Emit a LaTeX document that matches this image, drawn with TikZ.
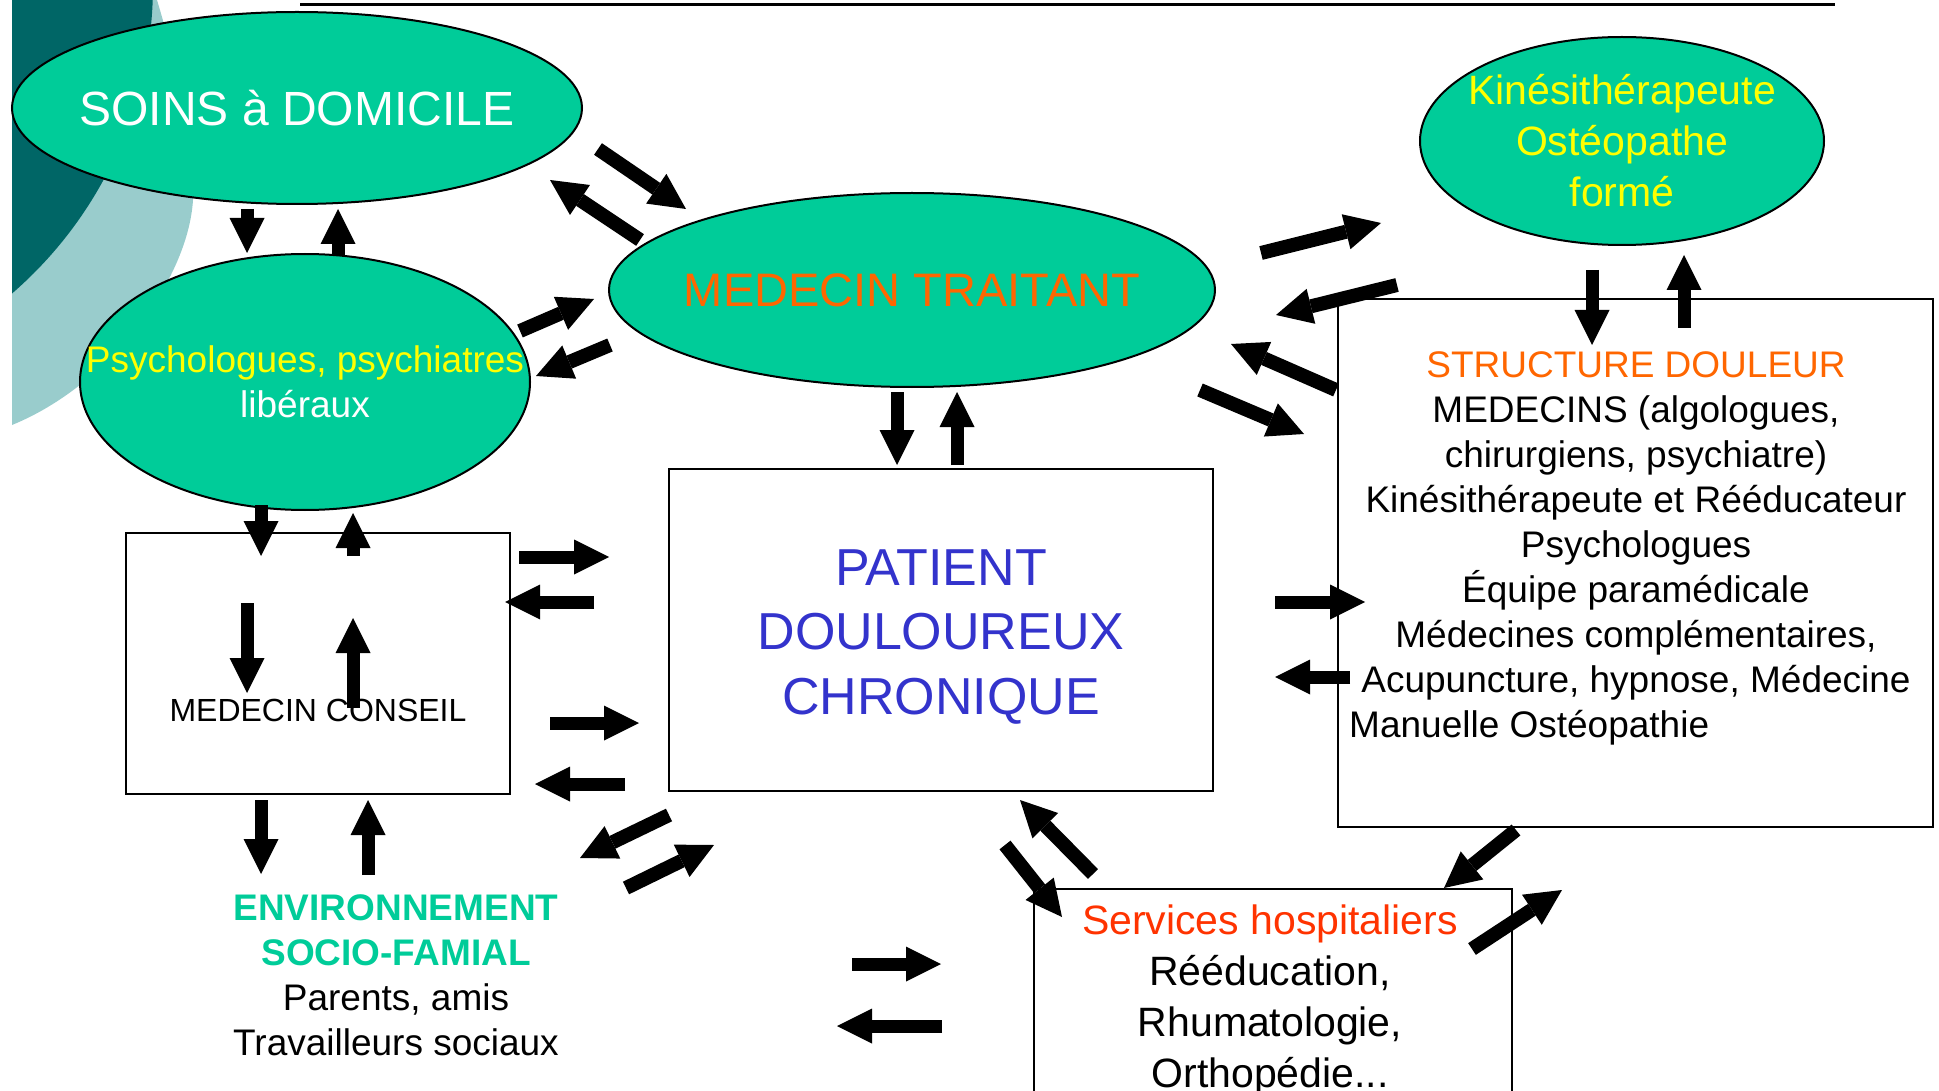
\documentclass[tikz,border=0pt]{standalone}
\usepackage{fontspec}
\setmainfont{Liberation Sans}
\usetikzlibrary{arrows.meta,shapes.geometric}
\definecolor{ellfill}{HTML}{00CC99}
\definecolor{darkteal}{HTML}{006666}
\definecolor{lightteal}{HTML}{99CCCC}
\definecolor{orangetxt}{HTML}{FF6600}
\definecolor{yellowtxt}{HTML}{FFFF00}
\definecolor{bluetxt}{HTML}{3333CC}
\definecolor{redtxt}{HTML}{FF3300}
\definecolor{greentxt}{HTML}{00CC99}
\newcommand\fsz[2]{\fontsize{#1pt}{#2pt}\selectfont}
\newcommand\flow[4][barrow]{\coordinate (#2a) at (#3); \coordinate (#2b) at (#4); \draw[#1] (#2a) -- (#2b);}
\begin{document}
\begin{tikzpicture}[x=1pt,y=-1pt,
  ell/.style={ellipse,draw=black,line width=2pt,fill=ellfill,inner sep=0pt},
  boxn/.style={rectangle,draw=black,line width=2.2pt,inner sep=0pt},
  txt/.style={inner sep=0pt,align=center},
  barrow/.style={line width=13pt,-{Triangle[width=35pt,length=35pt,line width=0pt]}},
  darrow/.style={line width=14pt,-{Triangle[width=36pt,length=36pt,line width=0pt]}},
]
\useasboundingbox (0,0) rectangle (1939,1091);
% background decoration
\fill[lightteal] (12,0) -- (157,0) .. controls (175,60) and (195,140) .. (193,200)
   .. controls (188,280) and (110,385) .. (12,425) -- cycle;
\begin{scope}
  \clip (12,0) rectangle (400,450);
  \fill[darkteal] (-255,-15) circle[radius=408pt];
\end{scope}
% top line
\coordinate (tlA) at (300,5);
\coordinate (tlB) at (1835,5);
\draw[line width=3pt] (tlA) -- (tlB);

% ellipses
\node[ell,minimum width=570pt,minimum height=192pt] (soins) at (297,108) {};
\node[ell,minimum width=450pt,minimum height=256pt] (psy) at (305,382) {};
\node[ell,minimum width=404pt,minimum height=208pt] (kine) at (1622,141) {};
\node[ell,minimum width=606pt,minimum height=194pt] (med) at (912,290) {};

% boxes
\node[boxn,minimum width=544pt,minimum height=322pt] (pat) at (941,630) {};
\node[boxn,minimum width=384pt,minimum height=261pt] (cons) at (318,663.5) {};
\node[boxn,minimum width=595pt,minimum height=528pt] (sd) at (1635.5,563) {};
\node[boxn,minimum width=478pt,minimum height=211pt] (sv) at (1273,994.5) {};

% texts
\node[txt,text=white,font=\fsz{48}{58}] (soinsT) at (soins.center) {SOINS à DOMICILE};
\node[txt,font=\fsz{37}{45}] (psyT) at (psy.center) {\textcolor{yellowtxt}{Psychologues, psychiatres}\\\textcolor{white}{libéraux}};
\node[txt,text=yellowtxt,font=\fsz{41}{51}] (kineT) at (kine.center) {Kinésithérapeute\\Ostéopathe\\formé};
\node[txt,text=orangetxt,font=\fsz{47}{56}] (medT) at (med.center) {MEDECIN TRAITANT};
\node[txt,text=bluetxt,font=\fsz{52}{64.5}] (patT) at ([yshift=-7pt]pat.center) {PATIENT\\DOULOUREUX\\CHRONIQUE};
\node[txt,font=\fsz{32}{38},anchor=base] (consT) at (318,721) {MEDECIN CONSEIL};
\node[txt,font=\fsz{37}{45},anchor=north] (sdT) at (1636,341) {\rule{0pt}{36pt}\textcolor{orangetxt}{STRUCTURE DOULEUR}\\MEDECINS (algologues,\\chirurgiens, psychiatre)\\Kinésithérapeute et Rééducateur\\Psychologues\\Équipe paramédicale\\Médecines complémentaires,\\Acupuncture, hypnose, Médecine};
\node[txt,font=\fsz{37}{45},anchor=base west] (sdT2) at (1349,737) {Manuelle Ostéopathie};
\node[txt,font=\fsz{41}{51},anchor=north] (svT) at (1270,894) {\rule{0pt}{40pt}\textcolor{redtxt}{Services hospitaliers}\\Rééducation,\\Rhumatologie,\\Orthopédie...};
\node[txt,font=\fsz{37}{45},anchor=north] (envT) at (396,884) {\rule{0pt}{36pt}\textcolor{greentxt}{\bfseries ENVIRONNEMENT}\\\textcolor{greentxt}{\bfseries SOCIO-FAMIAL}\\Parents, amis\\Travailleurs sociaux};

% arrows
\flow{f1}{247,209}{247,253}
\flow{f2}{338,255}{338,209}
\flow{f3}{261,505}{261,556}
\flow{f4}{353,556}{353,513}
\flow{f5}{261,800}{261,874}
\flow{f6}{368,875}{368,800}
\flow{f7}{247,603}{247,693}
\flow{f8}{353,708}{353,618}
\flow[darrow]{f9}{598,149}{686,209}
\flow[darrow]{f10}{640,240}{550,180}
\flow[darrow]{f11}{520,331}{594,299}
\flow[darrow]{f12}{610,345}{536,376}
\flow{f13}{897,392}{897,465}
\flow{f14}{957,465}{957,392}
\flow{f15}{519,557}{609,557}
\flow{f16}{594,602}{505,602}
\flow{f17}{550,723}{639,723}
\flow{f18}{625,784}{535,784}
\flow[darrow]{f19}{669,815}{580,858}
\flow[darrow]{f20}{626,888}{714,845}
\flow{f21}{852,964}{941,964}
\flow{f22}{942,1026}{837,1026}
\flow[darrow]{f23}{1005,845}{1062,917}
\flow[darrow]{f24}{1093,874}{1020,800}
\flow{f25}{1275,602}{1365,602}
\flow{f26}{1350,677}{1275,677}
\flow[darrow]{f27}{1516,830}{1444,888}
\flow[darrow]{f28}{1472,949}{1562,890}
\flow[darrow]{f29}{1261,253}{1381,223}
\flow[darrow]{f30}{1397,285}{1276,315}
\flow[darrow]{f31}{1336,390}{1231,344}
\flow[darrow]{f32}{1200,390}{1304,434}
\flow{f33}{1592,270}{1592,345}
\flow{f34}{1684,328}{1684,255}
\end{tikzpicture}
\end{document}
